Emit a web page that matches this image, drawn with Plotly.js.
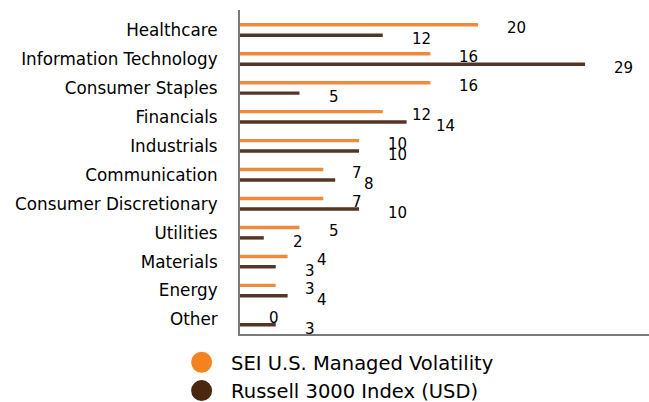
<!DOCTYPE html>
<html>
<head>
<meta charset="utf-8">
<script src="https://cdn.plot.ly/plotly-3.0.1.min.js"></script>
<style>html,body{margin:0;padding:0;background:#fff;}#chart{width:649px;height:402px;}</style>
</head>
<body>
<div id="chart"></div>
<script>
const categories = ["Healthcare","Information Technology","Consumer Staples","Financials","Industrials","Communication","Consumer Discretionary","Utilities","Materials","Energy","Other"];
const seiValues = [20,16,16,12,10,7,7,5,4,3,0];
const russellValues = [12,29,5,14,10,8,10,2,3,4,3];
const seriesNames = ["SEI U.S. Managed Volatility","Russell 3000 Index (USD)"];

const FONT = "DejaVu Sans, Verdana, sans-serif";
const orangeBar = "#EF8A3C", brownBar = "#553624";
const orangeLeg = "#F58220", brownLeg = "#4A2810";

const traces = [
  {type:"bar", orientation:"h", x:seiValues, y:categories, marker:{color:orangeBar}, showlegend:false, hoverinfo:"x+y", name:seriesNames[0]},
  {type:"bar", orientation:"h", x:russellValues, y:categories, marker:{color:brownBar}, showlegend:false, hoverinfo:"x+y", name:seriesNames[1]},
  {type:"scatter", mode:"markers", x:[null], y:[null], name:seriesNames[0], marker:{color:orangeLeg, size:16, line:{color:orangeLeg, width:5}}},
  {type:"scatter", mode:"markers", x:[null], y:[null], name:seriesNames[1], marker:{color:brownLeg, size:16, line:{color:brownLeg, width:5}}}
];

const annotations = [];
[[seiValues, 2],[russellValues, -9]].forEach(([vals, ys]) => {
  vals.forEach((v, i) => {
    annotations.push({x:v, y:categories[i], xref:"x", yref:"y", text:String(Math.round(v)),
      showarrow:false, xanchor:"left", yanchor:"middle", xshift:27, yshift:ys,
      font:{family:FONT, size:15, color:"#000"}});
  });
});

const layout = {
  width:649, height:402,
  margin:{l:240, r:0, t:10, b:68, autoexpand:false},
  paper_bgcolor:"#fff", plot_bgcolor:"#fff",
  barmode:"group", bargap:0.28, bargroupgap:0.67,
  font:{family:FONT, size:16, color:"#000"},
  xaxis:{range:[0,34.37], showgrid:false, zeroline:false, showticklabels:false, ticks:"",
         showline:true, linecolor:"#7a7a7a", linewidth:2, fixedrange:true},
  yaxis:{autorange:"reversed", showgrid:false, zeroline:false, ticks:"", showline:true,
         linecolor:"#7a7a7a", linewidth:2, ticklabelstandoff:17,
         tickfont:{family:FONT, size:16.8, color:"#000"}, fixedrange:true},
  legend:{orientation:"v", x:-0.166, xanchor:"left", y:-0.028, yanchor:"top", itemwidth:49,
          font:{family:FONT, size:19.5, color:"#000"}, bgcolor:"rgba(0,0,0,0)", tracegroupgap:0},
  annotations: annotations,
  showlegend:true
};

Plotly.newPlot("chart", traces, layout, {displayModeBar:false, staticPlot:true});
</script>
</body>
</html>
